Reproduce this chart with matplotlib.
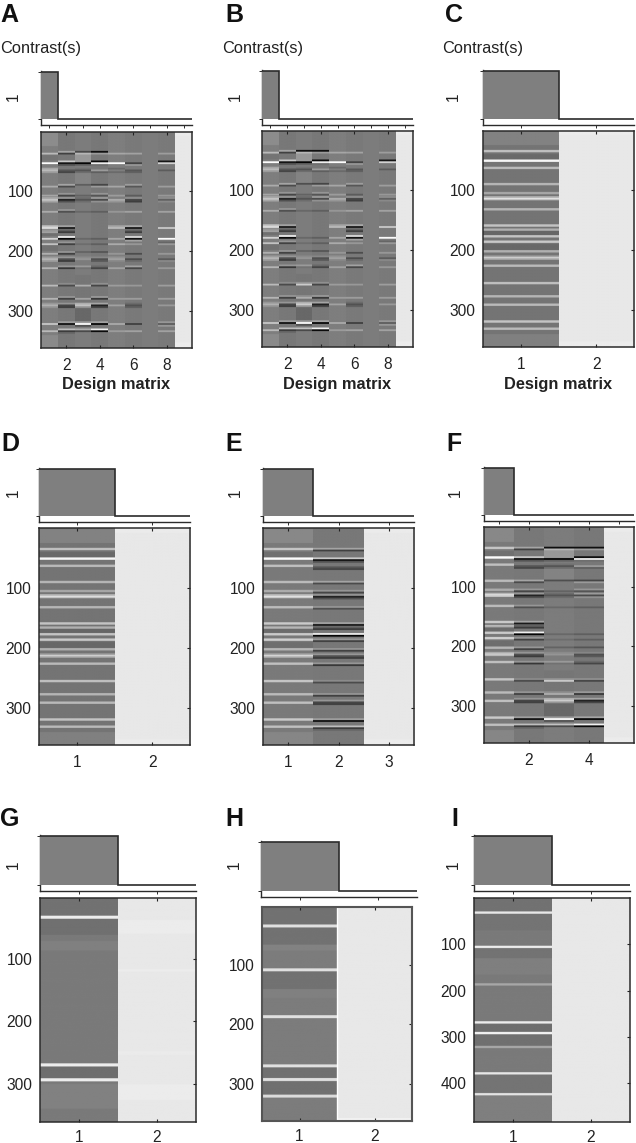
#!/usr/bin/env python3
"""Design matrix and contrast panels A to I."""

import matplotlib

matplotlib.use("Agg")
import matplotlib.pyplot as plt
import numpy as np

plt.rcParams["font.family"] = ["Liberation Sans", "DejaVu Sans"]

WIDTH = 636
HEIGHT = 1143

# first row of each stripe, shared by panels A to F
STRIPE_ROWS = [
    33, 36, 49, 52, 55, 61, 64, 67, 88, 91, 94, 103, 106, 110, 113, 116,
    130, 133, 157, 160, 164, 167, 175, 178, 181, 184, 187, 200, 203,
    209, 212, 215, 224, 227, 253, 256, 275, 278, 286, 289, 292,
    317, 320, 323, 329, 332, 335,
]

# grey offset of each stripe from the column base, one list per regressor
COL1 = [
    0, 60, 0, 130, 0, 40, 60, 30, 0, 45, 0, 0, 40, 40, 70, 40,
    0, 45, 70, 95, 30, 50, 0, 85, 0, 0, 70, 0, 50,
    30, 55, 30, 0, 55, 0, 60, 0, 55, 25, 50, 20,
    0, 75, 0, 0, 60, 0,
]
COL1_D = [
    75, 0, 130, 0, 0, 70, 0, 0, 65, 0, 0, 50, 0, 60, 80, 0,
    65, 0, 80, 0, 65, 0, 80, 0, 0, 85, 0, 60, 0,
    50, 65, 0, 70, 0, 75, 0, 65, 0, 0, 70, 0,
    80, 0, 0, 70, 0, 0,
]
COL2 = [
    45, -55, 80, -100, -35, 0, -35, -50, 45, -45, 0, 30, -50, 30, -85, -40,
    30, -40, 45, -95, -25, -60, 120, -115, 0, 30, -55, 30, -55,
    30, -40, -60, 30, -65, 20, -45, 30, -55, 30, -50, -55,
    40, -105, 0, 70, -60, -15,
]
COL3 = [
    -50, 30, 30, -120, -25, -10, -40, -15, -30, 0, 0, 0, -25, -15, -40, -15,
    0, -20, 0, 0, 0, 0, 0, -20, 0, 0, -15, -25, 0,
    15, 25, 0, 30, -10, 0, 55, 0, 45, 50, 70, 20,
    30, 130, -45, 50, -50, 0,
]
COL3_B = [
    -110, 30, 30, -120, -25, -10, -40, -15, -45, 0, 0, 0, -25, -15, -40, -15,
    0, -20, 0, 0, 0, 0, 0, -20, 0, 0, -15, -25, 0,
    15, 25, 0, 30, -10, 30, 85, 25, 55, 50, 80, 25,
    30, 130, -45, 70, -50, 0,
]
COL4 = [
    -105, 35, -110, 120, -10, 0, 35, -25, -50, 35, 0, 30, -35, 35, -45, 25,
    0, -25, 0, 0, 0, 0, 0, -25, 0, 0, -25, -35, 0,
    15, -40, -30, -15, -50, 25, -50, 35, -65, 45, -85, -50,
    45, -115, 0, 120, -110, 0,
]
COL5 = [
    0, 40, 0, 130, 0, -20, 0, -20, 0, 40, 0, 0, 30, 0, 45, 25,
    0, 25, 40, 60, 0, 0, 0, 40, 0, 0, 45, 0, 25,
    20, 35, 10, 0, 35, 0, 30, 0, 30, 0, 35, 0,
    0, 45, 0, 0, 30, 0,
]
COL6 = [
    0, 40, 0, -55, 30, 0, -35, -25, 35, -35, 0, 0, -30, 20, -50, -60,
    0, 40, 50, -100, -25, -60, 100, -105, 40, 0, 30, 0, -45,
    0, -45, -15, 40, -50, 0, 30, 0, 35, -15, -40, -25,
    0, -60, 0, 0, 40, 0,
]
COL7 = [0] * len(STRIPE_ROWS)
COL8 = [
    0, 35, -100, 90, 0, 0, -30, 0, 0, 35, 0, 0, 30, 20, -25, 15,
    0, 40, 0, 80, 0, 0, 0, 130, 0, -20, 30, 0, 30,
    0, -30, 15, 0, 30, 0, 35, 0, 35, 0, 30, 0,
    30, -30, 30, 0, 40, 0,
]

# slow drifts of a column: band start row, band end row, grey offset
COL1_BAND_START = [2, 40, 166, 190, 340]
COL1_BAND_END = [25, 49, 175, 200, 362]
COL1_BAND_OFF = [14, -10, -14, -12, 12]
COL3_BAND_START = [36, 70, 240, 295]
COL3_BAND_END = [49, 88, 286, 317]
COL3_BAND_OFF = [28, 8, -6, -20]
CONST_BAND_START = [0, 352]
CONST_BAND_END = [8, 362]
CONST_BAND_OFF = [3, 4]

G_ROWS = [29, 267, 291]
G_OFFSETS = [115, 115, 115]
G_BAND_START = [0, 33, 70, 272, 300]
G_BAND_END = [29, 60, 85, 291, 340]
G_BAND_OFF = [-8, -10, 6, -12, 7]
G_COL2_BAND_START = [36, 115, 247, 301]
G_COL2_BAND_END = [58, 119, 253, 326]
G_COL2_BAND_OFF = [4, 4, 3, 4]

H_ROWS = [31, 105, 184, 267, 290, 318]
H_OFFSETS = [100, 100, 100, 100, 100, 95]
H_BAND_START = [2, 36, 65, 110, 140, 272, 296, 325]
H_BAND_END = [31, 65, 75, 140, 155, 290, 318, 362]
H_BAND_OFF = [-10, -10, 6, -10, 4, -12, -12, 0]
H_COL2_BAND_START = [358]
H_COL2_BAND_END = [365]
H_COL2_BAND_OFF = [14]

I_ROWS = [29, 103, 184, 266, 289, 319, 376, 421]
I_OFFSETS = [110, 115, 45, 115, 120, 45, 110, 105]
I_BAND_START = [0, 34, 108, 130, 272, 295, 380, 426]
I_BAND_END = [29, 70, 130, 165, 289, 319, 421, 484]
I_BAND_OFF = [-8, -6, -7, 5, -12, -10, -6, 5]

CONTRAST_A = [1, 0, 0, 0, 0, 0, 0, 0, 0]
CONTRAST_2 = [1, 0]
CONTRAST_E = [1, 0, 0]
CONTRAST_F = [1, 0, 0, 0, 0]

Y_TICKS = [100, 200, 300]
Y_TICKS_I = [100, 200, 300, 400]

NROWS = 362
LINE = "#2b2b2b"
TEXT = "#222222"
LABEL_SIZE = 11.2


def make_column(base, rows=(), offsets=(), starts=(), ends=(), band_off=(), nrows=NROWS, width=3):
    col = np.full(nrows, float(base))
    for start, end, off in zip(starts, ends, band_off):
        col[start:end] += off
    for row, off in zip(rows, offsets):
        col[row : row + width] += off
    return np.clip(col, 0, 255)


def axes_px(fig, left, right, top, bottom):
    return fig.add_axes(
        [left / WIDTH, 1 - bottom / HEIGHT, (right - left) / WIDTH, (bottom - top) / HEIGHT]
    )


def text_px(fig, x, y, label, **kwargs):
    fig.text(x / WIDTH, 1 - y / HEIGHT, label, va="center", **kwargs)


def draw_contrast(ax, values, ticks):
    positions = np.arange(1, len(values) + 1)
    edges = np.arange(len(values) + 1) + 0.5
    # bar hides the left spine, the outline only runs over the top and the right side
    ax.bar(positions, values, width=1, color="#7f7f7f", linewidth=0, zorder=3, clip_on=False)
    ax.stairs(values, edges, baseline=None, color=LINE, linewidth=1.2, zorder=4, clip_on=False)
    ax.set_xlim(0.5, len(values) + 0.5)
    ax.set_ylim(-0.13, 1.02)
    ax.spines["top"].set_visible(False)
    ax.spines["right"].set_visible(False)
    for side in ["left", "bottom"]:
        ax.spines[side].set_linewidth(1.0)
        ax.spines[side].set_color(LINE)
    ax.set_yticks([0, 1])
    ax.set_yticklabels([])
    ax.set_xticks(ticks)
    ax.set_xticklabels([])
    ax.tick_params(length=2, width=0.7, color=LINE)


def draw_matrix(ax, columns, xticks, yticks, ylim, edge, edge_width, xpad):
    ax.set_facecolor("#7a7a7a")
    for index, col in enumerate(columns):
        ax.imshow(
            col[:, None],
            cmap="gray",
            vmin=0,
            vmax=255,
            aspect="auto",
            interpolation="hanning",
            extent=[index + 0.5, index + 1.5, len(col) + 0.5, 0.5],
        )
    ax.set_xlim(0.5, len(columns) + 0.5)
    ax.set_ylim(*ylim)
    ax.set_xticks(xticks)
    ax.set_yticks(yticks)
    ax.tick_params(
        direction="in", length=2, width=0.8, color=TEXT,
        top=True, right=True, left=False, labelsize=LABEL_SIZE, labelcolor=TEXT,
    )
    ax.tick_params(axis="x", pad=xpad)
    ax.tick_params(axis="y", pad=5.5)
    for spine in ax.spines.values():
        spine.set_linewidth(edge_width)
        spine.set_color(edge)


def draw_panel(fig, letter, letter_x, letter_y, one_x, one_y, box, columns, contrast, xticks,
               yticks=Y_TICKS, ylim=(362, 0), con_box=None, edge=LINE, edge_width=1.1, xpad=7.5):
    left, right, con_top, con_bot, img_top, img_bot = box
    con_left, con_right = con_box if con_box else (left, right)
    draw_contrast(
        axes_px(fig, con_left, con_right, con_top, con_bot),
        contrast,
        list(range(1, len(contrast) + 1)),
    )
    ax = axes_px(fig, left, right, img_top, img_bot)
    draw_matrix(ax, columns, xticks, yticks, ylim, edge, edge_width, xpad)
    text_px(fig, letter_x, letter_y, letter, fontsize=18, fontweight="bold", color="#111111")
    text_px(fig, one_x, one_y, "1", rotation=90, ha="center", fontsize=LABEL_SIZE, color=TEXT)
    return ax


def main():
    fig = plt.figure(figsize=(WIDTH / 100, HEIGHT / 100), dpi=100)

    col1 = make_column(126, STRIPE_ROWS, COL1, COL1_BAND_START, COL1_BAND_END, COL1_BAND_OFF)
    col1_c = make_column(116, STRIPE_ROWS, COL1_D, COL1_BAND_START, COL1_BAND_END, COL1_BAND_OFF, width=4)
    col1_e = make_column(122, STRIPE_ROWS, COL1_D, COL1_BAND_START, COL1_BAND_END, COL1_BAND_OFF, width=4)
    col2 = make_column(120, STRIPE_ROWS, COL2)
    col3 = make_column(124, STRIPE_ROWS, COL3, COL3_BAND_START, COL3_BAND_END, COL3_BAND_OFF)
    col3_b = make_column(124, STRIPE_ROWS, COL3_B, COL3_BAND_START, COL3_BAND_END, COL3_BAND_OFF)
    col4 = make_column(120, STRIPE_ROWS, COL4)
    col5 = make_column(126, STRIPE_ROWS, COL5)
    col6 = make_column(122, STRIPE_ROWS, COL6)
    col7 = make_column(124, STRIPE_ROWS, COL7)
    col8 = make_column(122, STRIPE_ROWS, COL8)
    const = make_column(232, starts=CONST_BAND_START, ends=CONST_BAND_END, band_off=CONST_BAND_OFF)

    design_a = [col1, col2, col3, col4, col5, col6, col7, col8, const]
    design_b = [col1, col2, col3_b, col4, col5, col6, col7, col8, const]

    draw_panel(fig, "A", 0, 15, 13, 97, (41, 192, 71, 125, 132, 348), design_a, CONTRAST_A,
               [2, 4, 6, 8], ylim=(362, 2))
    draw_panel(fig, "B", 225, 15, 235, 97, (262, 413, 70, 125, 131, 347), design_b, CONTRAST_A,
               [2, 4, 6, 8], ylim=(362, 2))
    draw_panel(fig, "C", 445, 15, 453, 97, (483, 634, 70, 125, 131, 347), [col1_c, const], CONTRAST_2,
               [1, 2], ylim=(362, 2))
    draw_panel(fig, "D", 1, 444, 13, 493, (39, 190, 468, 522, 528, 745), [col1_c, const], CONTRAST_2,
               [1, 2])
    draw_panel(fig, "E", 225, 444, 235, 493, (263, 414, 468, 522, 528, 745), [col1_e, col2, const], CONTRAST_E,
               [1, 2, 3])
    draw_panel(fig, "F", 446, 444, 455, 493, (484, 634, 467, 521, 527, 743),
               [col1_e, col2, col3_b, col4, const], CONTRAST_F, [2, 4])

    g1 = make_column(122, G_ROWS, G_OFFSETS, G_BAND_START, G_BAND_END, G_BAND_OFF, width=5)
    g2 = make_column(232, starts=G_COL2_BAND_START, ends=G_COL2_BAND_END, band_off=G_COL2_BAND_OFF)
    h1 = make_column(124, H_ROWS, H_OFFSETS, H_BAND_START, H_BAND_END, H_BAND_OFF, nrows=365, width=5)
    h2 = make_column(232, starts=H_COL2_BAND_START, ends=H_COL2_BAND_END, band_off=H_COL2_BAND_OFF, nrows=365)
    i1 = make_column(122, I_ROWS, I_OFFSETS, I_BAND_START, I_BAND_END, I_BAND_OFF, nrows=484, width=5)
    i2 = make_column(232, nrows=484)

    draw_panel(fig, "G", 0, 819, 13, 865, (40, 196, 835, 891, 898, 1122), [g1, g2], CONTRAST_2, [1, 2],
               ylim=(362, 1), xpad=5.5)
    ax_h = draw_panel(fig, "H", 225, 819, 234, 865, (262, 412, 841, 897, 907, 1121), [h1, h2], CONTRAST_2,
                      [1, 2], ylim=(363, 2), con_box=(261, 417), edge="#555555", edge_width=1.5, xpad=5.5)
    ax_h.axvline(1.5, color="white", linewidth=1.0)
    draw_panel(fig, "I", 451, 819, 453, 865, (474, 630, 835, 891, 898, 1122), [i1, i2], CONTRAST_2, [1, 2],
               yticks=Y_TICKS_I, ylim=(484, 0), xpad=5.5)

    for x in [0, 222, 442]:
        text_px(fig, x, 48, "Contrast(s)", fontsize=11.8, color=TEXT)
    for x in [116, 337, 558]:
        text_px(fig, x, 384, "Design matrix", ha="center", fontsize=11.8, fontweight="bold", color=TEXT)

    fig.savefig("out.png", dpi=100, facecolor="white")
    plt.close(fig)


if __name__ == "__main__":
    main()
